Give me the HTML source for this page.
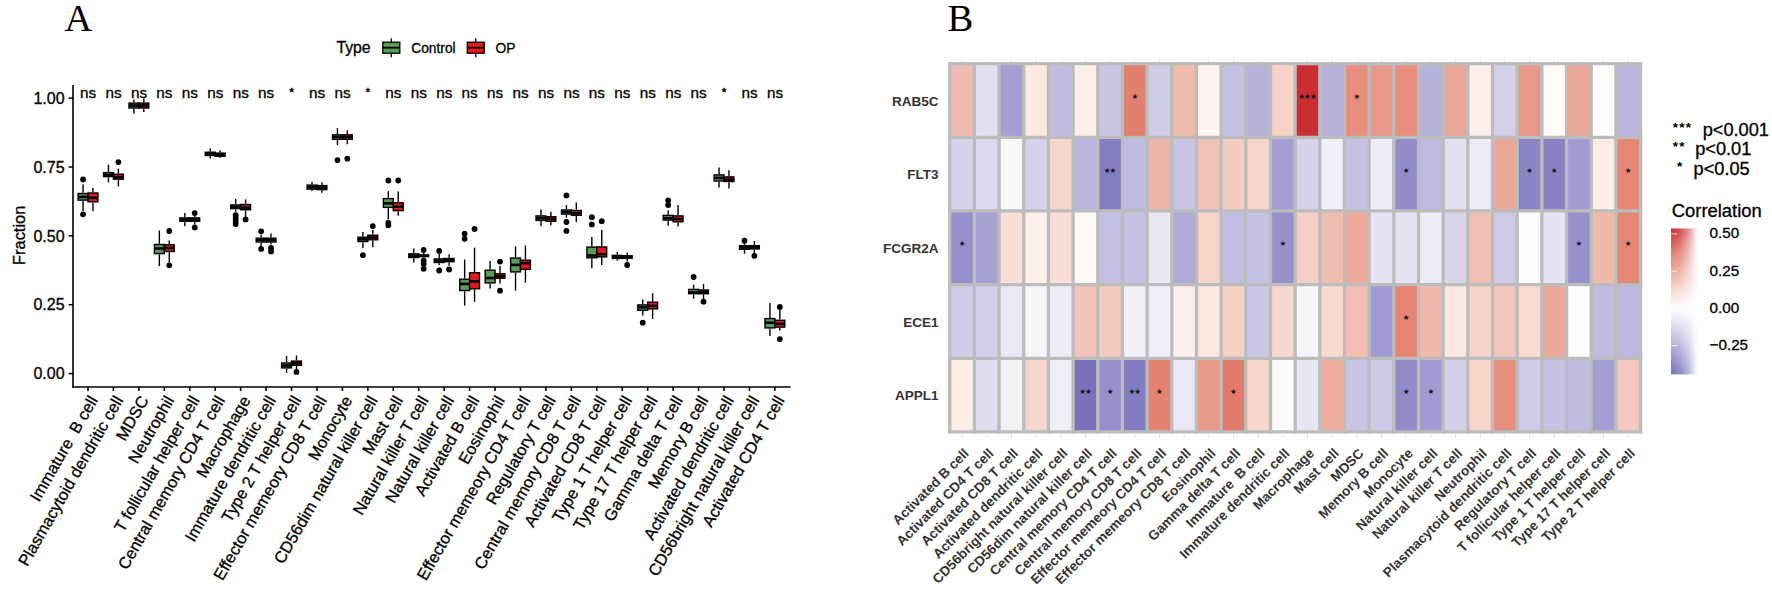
<!DOCTYPE html>
<html lang="en"><head><meta charset="utf-8"><title>Figure</title>
<style>
html,body{margin:0;padding:0;background:#fff;}
body{width:1772px;height:591px;overflow:hidden;}
svg{display:block;}
text{font-family:"Liberation Sans", Arial, Helvetica, sans-serif;white-space:pre;}
#panelA text,.rg{stroke:#000;stroke-width:0.3px;}
.serif{font-family:"Liberation Serif", "Times New Roman", serif;}
.star{font-family:"DejaVu Sans", "Liberation Sans", sans-serif;}
</style></head><body>
<svg width="1772" height="591" viewBox="0 0 1772 591">
<rect x="0" y="0" width="1772" height="591" fill="#ffffff"/>
<text class="serif" x="64.6" y="31" font-size="38.5" fill="#000">A</text>
<text class="serif" x="947.6" y="31.2" font-size="38.5" fill="#000">B</text>
<g id="panelA">
<line x1="83.05" y1="184.40" x2="83.05" y2="192.80" stroke="#000" stroke-width="1.40"/>
<line x1="83.05" y1="200.80" x2="83.05" y2="211.00" stroke="#000" stroke-width="1.40"/>
<rect x="78.10" y="193.50" width="9.90" height="6.60" fill="#5a9b5a" stroke="#000" stroke-width="1.40"/>
<line x1="78.10" y1="196.90" x2="88.00" y2="196.90" stroke="#000" stroke-width="2.60"/>
<circle cx="83.05" cy="179.50" r="2.90" fill="#000"/>
<circle cx="83.05" cy="214.30" r="2.90" fill="#000"/>
<line x1="92.95" y1="188.10" x2="92.95" y2="192.30" stroke="#000" stroke-width="1.40"/>
<line x1="92.95" y1="202.50" x2="92.95" y2="211.30" stroke="#000" stroke-width="1.40"/>
<rect x="88.00" y="193.00" width="9.90" height="8.80" fill="#e3191c" stroke="#000" stroke-width="1.40"/>
<line x1="88.00" y1="197.90" x2="97.90" y2="197.90" stroke="#000" stroke-width="2.60"/>
<line x1="108.49" y1="164.60" x2="108.49" y2="171.90" stroke="#000" stroke-width="1.40"/>
<line x1="108.49" y1="177.30" x2="108.49" y2="182.40" stroke="#000" stroke-width="1.40"/>
<rect x="103.54" y="172.60" width="9.90" height="4.00" fill="#5a9b5a" stroke="#000" stroke-width="1.40"/>
<line x1="103.54" y1="174.90" x2="113.44" y2="174.90" stroke="#000" stroke-width="2.60"/>
<line x1="118.39" y1="168.70" x2="118.39" y2="173.50" stroke="#000" stroke-width="1.40"/>
<line x1="118.39" y1="179.90" x2="118.39" y2="186.40" stroke="#000" stroke-width="1.40"/>
<rect x="113.44" y="174.20" width="9.90" height="5.00" fill="#e3191c" stroke="#000" stroke-width="1.40"/>
<line x1="113.44" y1="177.10" x2="123.34" y2="177.10" stroke="#000" stroke-width="2.60"/>
<circle cx="118.39" cy="162.10" r="2.90" fill="#000"/>
<line x1="133.93" y1="99.40" x2="133.93" y2="102.40" stroke="#000" stroke-width="1.40"/>
<line x1="133.93" y1="108.70" x2="133.93" y2="113.80" stroke="#000" stroke-width="1.40"/>
<rect x="128.98" y="103.10" width="9.90" height="4.90" fill="#5a9b5a" stroke="#000" stroke-width="1.40"/>
<line x1="128.98" y1="105.50" x2="138.88" y2="105.50" stroke="#000" stroke-width="2.60"/>
<line x1="143.83" y1="98.50" x2="143.83" y2="102.40" stroke="#000" stroke-width="1.40"/>
<line x1="143.83" y1="108.70" x2="143.83" y2="112.00" stroke="#000" stroke-width="1.40"/>
<rect x="138.88" y="103.10" width="9.90" height="4.90" fill="#e3191c" stroke="#000" stroke-width="1.40"/>
<line x1="138.88" y1="105.50" x2="148.78" y2="105.50" stroke="#000" stroke-width="2.60"/>
<line x1="159.37" y1="230.50" x2="159.37" y2="243.80" stroke="#000" stroke-width="1.40"/>
<line x1="159.37" y1="254.30" x2="159.37" y2="266.10" stroke="#000" stroke-width="1.40"/>
<rect x="154.42" y="244.50" width="9.90" height="9.10" fill="#5a9b5a" stroke="#000" stroke-width="1.40"/>
<line x1="154.42" y1="248.50" x2="164.32" y2="248.50" stroke="#000" stroke-width="2.60"/>
<line x1="169.27" y1="240.50" x2="169.27" y2="244.10" stroke="#000" stroke-width="1.40"/>
<line x1="169.27" y1="252.20" x2="169.27" y2="262.50" stroke="#000" stroke-width="1.40"/>
<rect x="164.32" y="244.80" width="9.90" height="6.70" fill="#e3191c" stroke="#000" stroke-width="1.40"/>
<line x1="164.32" y1="248.00" x2="174.22" y2="248.00" stroke="#000" stroke-width="2.60"/>
<circle cx="169.27" cy="231.00" r="2.90" fill="#000"/>
<circle cx="169.27" cy="265.30" r="2.90" fill="#000"/>
<line x1="184.81" y1="213.10" x2="184.81" y2="217.20" stroke="#000" stroke-width="1.40"/>
<line x1="184.81" y1="222.00" x2="184.81" y2="226.20" stroke="#000" stroke-width="1.40"/>
<rect x="179.86" y="217.90" width="9.90" height="3.40" fill="#5a9b5a" stroke="#000" stroke-width="1.40"/>
<line x1="179.86" y1="219.60" x2="189.76" y2="219.60" stroke="#000" stroke-width="2.60"/>
<line x1="194.71" y1="216.00" x2="194.71" y2="217.20" stroke="#000" stroke-width="1.40"/>
<line x1="194.71" y1="222.00" x2="194.71" y2="224.50" stroke="#000" stroke-width="1.40"/>
<rect x="189.76" y="217.90" width="9.90" height="3.40" fill="#e3191c" stroke="#000" stroke-width="1.40"/>
<line x1="189.76" y1="219.60" x2="199.66" y2="219.60" stroke="#000" stroke-width="2.60"/>
<circle cx="194.71" cy="213.10" r="2.90" fill="#000"/>
<circle cx="194.71" cy="227.40" r="2.90" fill="#000"/>
<line x1="210.25" y1="148.50" x2="210.25" y2="151.50" stroke="#000" stroke-width="1.40"/>
<line x1="210.25" y1="156.20" x2="210.25" y2="158.60" stroke="#000" stroke-width="1.40"/>
<rect x="205.30" y="152.20" width="9.90" height="3.30" fill="#5a9b5a" stroke="#000" stroke-width="1.40"/>
<line x1="205.30" y1="153.80" x2="215.20" y2="153.80" stroke="#000" stroke-width="2.60"/>
<line x1="220.15" y1="150.20" x2="220.15" y2="152.40" stroke="#000" stroke-width="1.40"/>
<line x1="220.15" y1="157.00" x2="220.15" y2="157.80" stroke="#000" stroke-width="1.40"/>
<rect x="215.20" y="153.10" width="9.90" height="3.20" fill="#e3191c" stroke="#000" stroke-width="1.40"/>
<line x1="215.20" y1="154.70" x2="225.10" y2="154.70" stroke="#000" stroke-width="2.60"/>
<line x1="235.69" y1="198.80" x2="235.69" y2="204.20" stroke="#000" stroke-width="1.40"/>
<line x1="235.69" y1="209.30" x2="235.69" y2="211.80" stroke="#000" stroke-width="1.40"/>
<rect x="230.74" y="204.90" width="9.90" height="3.70" fill="#5a9b5a" stroke="#000" stroke-width="1.40"/>
<line x1="230.74" y1="206.80" x2="240.64" y2="206.80" stroke="#000" stroke-width="2.60"/>
<circle cx="235.69" cy="215.20" r="2.90" fill="#000"/>
<circle cx="235.69" cy="218.60" r="2.90" fill="#000"/>
<circle cx="235.69" cy="221.10" r="2.90" fill="#000"/>
<circle cx="235.69" cy="224.00" r="2.90" fill="#000"/>
<line x1="245.59" y1="199.40" x2="245.59" y2="203.80" stroke="#000" stroke-width="1.40"/>
<line x1="245.59" y1="210.40" x2="245.59" y2="216.90" stroke="#000" stroke-width="1.40"/>
<rect x="240.64" y="204.50" width="9.90" height="5.20" fill="#e3191c" stroke="#000" stroke-width="1.40"/>
<line x1="240.64" y1="207.60" x2="250.54" y2="207.60" stroke="#000" stroke-width="2.60"/>
<circle cx="245.59" cy="219.40" r="2.90" fill="#000"/>
<line x1="261.13" y1="234.50" x2="261.13" y2="237.50" stroke="#000" stroke-width="1.40"/>
<line x1="261.13" y1="242.70" x2="261.13" y2="247.00" stroke="#000" stroke-width="1.40"/>
<rect x="256.18" y="238.20" width="9.90" height="3.80" fill="#5a9b5a" stroke="#000" stroke-width="1.40"/>
<line x1="256.18" y1="240.00" x2="266.08" y2="240.00" stroke="#000" stroke-width="2.60"/>
<circle cx="261.13" cy="231.30" r="2.90" fill="#000"/>
<circle cx="261.13" cy="248.90" r="2.90" fill="#000"/>
<line x1="271.03" y1="233.50" x2="271.03" y2="237.50" stroke="#000" stroke-width="1.40"/>
<line x1="271.03" y1="242.70" x2="271.03" y2="244.60" stroke="#000" stroke-width="1.40"/>
<rect x="266.08" y="238.20" width="9.90" height="3.80" fill="#e3191c" stroke="#000" stroke-width="1.40"/>
<line x1="266.08" y1="240.00" x2="275.98" y2="240.00" stroke="#000" stroke-width="2.60"/>
<circle cx="271.03" cy="248.00" r="2.90" fill="#000"/>
<circle cx="271.03" cy="251.40" r="2.90" fill="#000"/>
<line x1="286.57" y1="355.90" x2="286.57" y2="362.30" stroke="#000" stroke-width="1.40"/>
<line x1="286.57" y1="368.60" x2="286.57" y2="372.80" stroke="#000" stroke-width="1.40"/>
<rect x="281.62" y="363.00" width="9.90" height="4.90" fill="#5a9b5a" stroke="#000" stroke-width="1.40"/>
<line x1="281.62" y1="365.50" x2="291.52" y2="365.50" stroke="#000" stroke-width="2.60"/>
<line x1="296.47" y1="355.50" x2="296.47" y2="360.40" stroke="#000" stroke-width="1.40"/>
<line x1="296.47" y1="366.00" x2="296.47" y2="369.40" stroke="#000" stroke-width="1.40"/>
<rect x="291.52" y="361.10" width="9.90" height="4.20" fill="#e3191c" stroke="#000" stroke-width="1.40"/>
<line x1="291.52" y1="363.20" x2="301.42" y2="363.20" stroke="#000" stroke-width="2.60"/>
<circle cx="296.47" cy="371.90" r="2.90" fill="#000"/>
<line x1="312.01" y1="181.70" x2="312.01" y2="184.40" stroke="#000" stroke-width="1.40"/>
<line x1="312.01" y1="189.80" x2="312.01" y2="191.10" stroke="#000" stroke-width="1.40"/>
<rect x="307.06" y="185.10" width="9.90" height="4.00" fill="#5a9b5a" stroke="#000" stroke-width="1.40"/>
<line x1="307.06" y1="187.10" x2="316.96" y2="187.10" stroke="#000" stroke-width="2.60"/>
<line x1="321.91" y1="182.20" x2="321.91" y2="184.90" stroke="#000" stroke-width="1.40"/>
<line x1="321.91" y1="190.30" x2="321.91" y2="192.70" stroke="#000" stroke-width="1.40"/>
<rect x="316.96" y="185.60" width="9.90" height="4.00" fill="#e3191c" stroke="#000" stroke-width="1.40"/>
<line x1="316.96" y1="187.60" x2="326.86" y2="187.60" stroke="#000" stroke-width="2.60"/>
<line x1="337.45" y1="128.20" x2="337.45" y2="134.10" stroke="#000" stroke-width="1.40"/>
<line x1="337.45" y1="140.00" x2="337.45" y2="145.10" stroke="#000" stroke-width="1.40"/>
<rect x="332.50" y="134.80" width="9.90" height="4.50" fill="#5a9b5a" stroke="#000" stroke-width="1.40"/>
<line x1="332.50" y1="137.00" x2="342.40" y2="137.00" stroke="#000" stroke-width="2.60"/>
<circle cx="337.45" cy="160.10" r="2.90" fill="#000"/>
<line x1="347.35" y1="130.40" x2="347.35" y2="134.10" stroke="#000" stroke-width="1.40"/>
<line x1="347.35" y1="140.00" x2="347.35" y2="144.30" stroke="#000" stroke-width="1.40"/>
<rect x="342.40" y="134.80" width="9.90" height="4.50" fill="#e3191c" stroke="#000" stroke-width="1.40"/>
<line x1="342.40" y1="137.00" x2="352.30" y2="137.00" stroke="#000" stroke-width="2.60"/>
<circle cx="347.35" cy="158.70" r="2.90" fill="#000"/>
<line x1="362.89" y1="231.90" x2="362.89" y2="236.50" stroke="#000" stroke-width="1.40"/>
<line x1="362.89" y1="242.20" x2="362.89" y2="248.10" stroke="#000" stroke-width="1.40"/>
<rect x="357.94" y="237.20" width="9.90" height="4.30" fill="#5a9b5a" stroke="#000" stroke-width="1.40"/>
<line x1="357.94" y1="239.30" x2="367.84" y2="239.30" stroke="#000" stroke-width="2.60"/>
<circle cx="362.89" cy="255.20" r="2.90" fill="#000"/>
<line x1="372.79" y1="229.70" x2="372.79" y2="234.50" stroke="#000" stroke-width="1.40"/>
<line x1="372.79" y1="240.50" x2="372.79" y2="247.20" stroke="#000" stroke-width="1.40"/>
<rect x="367.84" y="235.20" width="9.90" height="4.60" fill="#e3191c" stroke="#000" stroke-width="1.40"/>
<line x1="367.84" y1="237.50" x2="377.74" y2="237.50" stroke="#000" stroke-width="2.60"/>
<circle cx="372.79" cy="226.10" r="2.90" fill="#000"/>
<line x1="388.33" y1="191.10" x2="388.33" y2="197.90" stroke="#000" stroke-width="1.40"/>
<line x1="388.33" y1="208.10" x2="388.33" y2="219.40" stroke="#000" stroke-width="1.40"/>
<rect x="383.38" y="198.60" width="9.90" height="8.80" fill="#5a9b5a" stroke="#000" stroke-width="1.40"/>
<line x1="383.38" y1="203.30" x2="393.28" y2="203.30" stroke="#000" stroke-width="2.60"/>
<circle cx="388.33" cy="180.50" r="2.90" fill="#000"/>
<circle cx="388.33" cy="222.80" r="2.90" fill="#000"/>
<circle cx="388.33" cy="225.30" r="2.90" fill="#000"/>
<line x1="398.23" y1="191.50" x2="398.23" y2="202.10" stroke="#000" stroke-width="1.40"/>
<line x1="398.23" y1="211.30" x2="398.23" y2="215.70" stroke="#000" stroke-width="1.40"/>
<rect x="393.28" y="202.80" width="9.90" height="7.80" fill="#e3191c" stroke="#000" stroke-width="1.40"/>
<line x1="393.28" y1="206.70" x2="403.18" y2="206.70" stroke="#000" stroke-width="2.60"/>
<circle cx="398.23" cy="180.50" r="2.90" fill="#000"/>
<line x1="413.77" y1="248.40" x2="413.77" y2="253.10" stroke="#000" stroke-width="1.40"/>
<line x1="413.77" y1="258.20" x2="413.77" y2="262.40" stroke="#000" stroke-width="1.40"/>
<rect x="408.82" y="253.80" width="9.90" height="3.70" fill="#5a9b5a" stroke="#000" stroke-width="1.40"/>
<line x1="408.82" y1="255.60" x2="418.72" y2="255.60" stroke="#000" stroke-width="2.60"/>
<line x1="423.67" y1="252.20" x2="423.67" y2="254.30" stroke="#000" stroke-width="1.40"/>
<line x1="423.67" y1="257.30" x2="423.67" y2="259.40" stroke="#000" stroke-width="1.40"/>
<rect x="418.72" y="255.00" width="9.90" height="1.60" fill="#e3191c" stroke="#000" stroke-width="1.40"/>
<line x1="418.72" y1="255.80" x2="428.62" y2="255.80" stroke="#000" stroke-width="2.60"/>
<circle cx="423.67" cy="250.00" r="2.90" fill="#000"/>
<circle cx="423.67" cy="260.70" r="2.90" fill="#000"/>
<circle cx="423.67" cy="264.10" r="2.90" fill="#000"/>
<circle cx="423.67" cy="268.80" r="2.90" fill="#000"/>
<line x1="439.21" y1="253.90" x2="439.21" y2="258.20" stroke="#000" stroke-width="1.40"/>
<line x1="439.21" y1="263.20" x2="439.21" y2="265.00" stroke="#000" stroke-width="1.40"/>
<rect x="434.26" y="258.90" width="9.90" height="3.60" fill="#5a9b5a" stroke="#000" stroke-width="1.40"/>
<line x1="434.26" y1="260.70" x2="444.16" y2="260.70" stroke="#000" stroke-width="2.60"/>
<circle cx="439.21" cy="250.90" r="2.90" fill="#000"/>
<circle cx="439.21" cy="270.50" r="2.90" fill="#000"/>
<line x1="449.11" y1="254.30" x2="449.11" y2="257.80" stroke="#000" stroke-width="1.40"/>
<line x1="449.11" y1="262.40" x2="449.11" y2="265.80" stroke="#000" stroke-width="1.40"/>
<rect x="444.16" y="258.50" width="9.90" height="3.20" fill="#e3191c" stroke="#000" stroke-width="1.40"/>
<line x1="444.16" y1="260.10" x2="454.06" y2="260.10" stroke="#000" stroke-width="2.60"/>
<circle cx="449.11" cy="269.50" r="2.90" fill="#000"/>
<line x1="464.65" y1="259.50" x2="464.65" y2="278.50" stroke="#000" stroke-width="1.40"/>
<line x1="464.65" y1="291.20" x2="464.65" y2="305.60" stroke="#000" stroke-width="1.40"/>
<rect x="459.70" y="279.20" width="9.90" height="11.30" fill="#5a9b5a" stroke="#000" stroke-width="1.40"/>
<line x1="459.70" y1="283.90" x2="469.60" y2="283.90" stroke="#000" stroke-width="2.60"/>
<circle cx="464.65" cy="233.70" r="2.90" fill="#000"/>
<circle cx="464.65" cy="238.80" r="2.90" fill="#000"/>
<line x1="474.55" y1="247.70" x2="474.55" y2="272.00" stroke="#000" stroke-width="1.40"/>
<line x1="474.55" y1="289.50" x2="474.55" y2="301.80" stroke="#000" stroke-width="1.40"/>
<rect x="469.60" y="272.70" width="9.90" height="16.10" fill="#e3191c" stroke="#000" stroke-width="1.40"/>
<line x1="469.60" y1="281.40" x2="479.50" y2="281.40" stroke="#000" stroke-width="2.60"/>
<circle cx="474.55" cy="229.00" r="2.90" fill="#000"/>
<line x1="490.09" y1="261.00" x2="490.09" y2="269.50" stroke="#000" stroke-width="1.40"/>
<line x1="490.09" y1="283.60" x2="490.09" y2="288.60" stroke="#000" stroke-width="1.40"/>
<rect x="485.14" y="270.20" width="9.90" height="12.70" fill="#5a9b5a" stroke="#000" stroke-width="1.40"/>
<line x1="485.14" y1="278.00" x2="495.04" y2="278.00" stroke="#000" stroke-width="2.60"/>
<line x1="499.99" y1="265.80" x2="499.99" y2="273.10" stroke="#000" stroke-width="1.40"/>
<line x1="499.99" y1="279.00" x2="499.99" y2="283.60" stroke="#000" stroke-width="1.40"/>
<rect x="495.04" y="273.80" width="9.90" height="4.50" fill="#e3191c" stroke="#000" stroke-width="1.40"/>
<line x1="495.04" y1="276.30" x2="504.94" y2="276.30" stroke="#000" stroke-width="2.60"/>
<circle cx="499.99" cy="261.60" r="2.90" fill="#000"/>
<circle cx="499.99" cy="290.70" r="2.90" fill="#000"/>
<line x1="515.53" y1="246.30" x2="515.53" y2="257.30" stroke="#000" stroke-width="1.40"/>
<line x1="515.53" y1="272.60" x2="515.53" y2="290.70" stroke="#000" stroke-width="1.40"/>
<rect x="510.58" y="258.00" width="9.90" height="13.90" fill="#5a9b5a" stroke="#000" stroke-width="1.40"/>
<line x1="510.58" y1="264.90" x2="520.48" y2="264.90" stroke="#000" stroke-width="2.60"/>
<line x1="525.43" y1="245.50" x2="525.43" y2="259.50" stroke="#000" stroke-width="1.40"/>
<line x1="525.43" y1="270.00" x2="525.43" y2="282.70" stroke="#000" stroke-width="1.40"/>
<rect x="520.48" y="260.20" width="9.90" height="9.10" fill="#e3191c" stroke="#000" stroke-width="1.40"/>
<line x1="520.48" y1="263.20" x2="530.38" y2="263.20" stroke="#000" stroke-width="2.60"/>
<line x1="540.97" y1="209.60" x2="540.97" y2="215.20" stroke="#000" stroke-width="1.40"/>
<line x1="540.97" y1="221.10" x2="540.97" y2="226.20" stroke="#000" stroke-width="1.40"/>
<rect x="536.02" y="215.90" width="9.90" height="4.50" fill="#5a9b5a" stroke="#000" stroke-width="1.40"/>
<line x1="536.02" y1="218.10" x2="545.92" y2="218.10" stroke="#000" stroke-width="2.60"/>
<line x1="550.87" y1="211.80" x2="550.87" y2="216.00" stroke="#000" stroke-width="1.40"/>
<line x1="550.87" y1="222.00" x2="550.87" y2="225.30" stroke="#000" stroke-width="1.40"/>
<rect x="545.92" y="216.70" width="9.90" height="4.60" fill="#e3191c" stroke="#000" stroke-width="1.40"/>
<line x1="545.92" y1="219.00" x2="555.82" y2="219.00" stroke="#000" stroke-width="2.60"/>
<line x1="566.41" y1="205.00" x2="566.41" y2="209.30" stroke="#000" stroke-width="1.40"/>
<line x1="566.41" y1="214.80" x2="566.41" y2="217.70" stroke="#000" stroke-width="1.40"/>
<rect x="561.46" y="210.00" width="9.90" height="4.10" fill="#5a9b5a" stroke="#000" stroke-width="1.40"/>
<line x1="561.46" y1="212.00" x2="571.36" y2="212.00" stroke="#000" stroke-width="2.60"/>
<circle cx="566.41" cy="195.40" r="2.90" fill="#000"/>
<circle cx="566.41" cy="222.00" r="2.90" fill="#000"/>
<circle cx="566.41" cy="230.90" r="2.90" fill="#000"/>
<line x1="576.31" y1="202.50" x2="576.31" y2="209.80" stroke="#000" stroke-width="1.40"/>
<line x1="576.31" y1="216.00" x2="576.31" y2="222.00" stroke="#000" stroke-width="1.40"/>
<rect x="571.36" y="210.50" width="9.90" height="4.80" fill="#e3191c" stroke="#000" stroke-width="1.40"/>
<line x1="571.36" y1="213.20" x2="581.26" y2="213.20" stroke="#000" stroke-width="2.60"/>
<line x1="591.85" y1="236.90" x2="591.85" y2="246.40" stroke="#000" stroke-width="1.40"/>
<line x1="591.85" y1="258.50" x2="591.85" y2="268.20" stroke="#000" stroke-width="1.40"/>
<rect x="586.90" y="247.10" width="9.90" height="10.70" fill="#5a9b5a" stroke="#000" stroke-width="1.40"/>
<line x1="586.90" y1="255.50" x2="596.80" y2="255.50" stroke="#000" stroke-width="2.60"/>
<circle cx="591.85" cy="217.20" r="2.90" fill="#000"/>
<circle cx="591.85" cy="224.40" r="2.90" fill="#000"/>
<line x1="601.75" y1="229.70" x2="601.75" y2="246.20" stroke="#000" stroke-width="1.40"/>
<line x1="601.75" y1="257.60" x2="601.75" y2="264.90" stroke="#000" stroke-width="1.40"/>
<rect x="596.80" y="246.90" width="9.90" height="10.00" fill="#e3191c" stroke="#000" stroke-width="1.40"/>
<line x1="596.80" y1="254.20" x2="606.70" y2="254.20" stroke="#000" stroke-width="2.60"/>
<circle cx="601.75" cy="221.20" r="2.90" fill="#000"/>
<line x1="617.29" y1="252.00" x2="617.29" y2="254.70" stroke="#000" stroke-width="1.40"/>
<line x1="617.29" y1="259.20" x2="617.29" y2="260.80" stroke="#000" stroke-width="1.40"/>
<rect x="612.34" y="255.40" width="9.90" height="3.10" fill="#5a9b5a" stroke="#000" stroke-width="1.40"/>
<line x1="612.34" y1="257.00" x2="622.24" y2="257.00" stroke="#000" stroke-width="2.60"/>
<line x1="627.19" y1="252.60" x2="627.19" y2="255.10" stroke="#000" stroke-width="1.40"/>
<line x1="627.19" y1="258.90" x2="627.19" y2="261.60" stroke="#000" stroke-width="1.40"/>
<rect x="622.24" y="255.80" width="9.90" height="2.40" fill="#e3191c" stroke="#000" stroke-width="1.40"/>
<line x1="622.24" y1="257.00" x2="632.14" y2="257.00" stroke="#000" stroke-width="2.60"/>
<circle cx="627.19" cy="265.00" r="2.90" fill="#000"/>
<line x1="642.73" y1="299.50" x2="642.73" y2="304.20" stroke="#000" stroke-width="1.40"/>
<line x1="642.73" y1="311.00" x2="642.73" y2="315.60" stroke="#000" stroke-width="1.40"/>
<rect x="637.78" y="304.90" width="9.90" height="5.40" fill="#5a9b5a" stroke="#000" stroke-width="1.40"/>
<line x1="637.78" y1="307.40" x2="647.68" y2="307.40" stroke="#000" stroke-width="2.60"/>
<circle cx="642.73" cy="322.70" r="2.90" fill="#000"/>
<line x1="652.63" y1="293.20" x2="652.63" y2="301.50" stroke="#000" stroke-width="1.40"/>
<line x1="652.63" y1="309.60" x2="652.63" y2="319.00" stroke="#000" stroke-width="1.40"/>
<rect x="647.68" y="302.20" width="9.90" height="6.70" fill="#e3191c" stroke="#000" stroke-width="1.40"/>
<line x1="647.68" y1="305.90" x2="657.58" y2="305.90" stroke="#000" stroke-width="2.60"/>
<line x1="668.17" y1="210.40" x2="668.17" y2="214.70" stroke="#000" stroke-width="1.40"/>
<line x1="668.17" y1="220.80" x2="668.17" y2="225.70" stroke="#000" stroke-width="1.40"/>
<rect x="663.22" y="215.40" width="9.90" height="4.70" fill="#5a9b5a" stroke="#000" stroke-width="1.40"/>
<line x1="663.22" y1="218.20" x2="673.12" y2="218.20" stroke="#000" stroke-width="2.60"/>
<circle cx="668.17" cy="200.30" r="2.90" fill="#000"/>
<circle cx="668.17" cy="205.00" r="2.90" fill="#000"/>
<line x1="678.07" y1="205.00" x2="678.07" y2="215.20" stroke="#000" stroke-width="1.40"/>
<line x1="678.07" y1="222.50" x2="678.07" y2="226.50" stroke="#000" stroke-width="1.40"/>
<rect x="673.12" y="215.90" width="9.90" height="5.90" fill="#e3191c" stroke="#000" stroke-width="1.40"/>
<line x1="673.12" y1="218.90" x2="683.02" y2="218.90" stroke="#000" stroke-width="2.60"/>
<line x1="693.61" y1="284.60" x2="693.61" y2="288.70" stroke="#000" stroke-width="1.40"/>
<line x1="693.61" y1="294.40" x2="693.61" y2="298.60" stroke="#000" stroke-width="1.40"/>
<rect x="688.66" y="289.40" width="9.90" height="4.30" fill="#5a9b5a" stroke="#000" stroke-width="1.40"/>
<line x1="688.66" y1="292.50" x2="698.56" y2="292.50" stroke="#000" stroke-width="2.60"/>
<circle cx="693.61" cy="277.00" r="2.90" fill="#000"/>
<line x1="703.51" y1="283.90" x2="703.51" y2="289.30" stroke="#000" stroke-width="1.40"/>
<line x1="703.51" y1="294.40" x2="703.51" y2="299.50" stroke="#000" stroke-width="1.40"/>
<rect x="698.56" y="290.00" width="9.90" height="3.70" fill="#e3191c" stroke="#000" stroke-width="1.40"/>
<line x1="698.56" y1="291.80" x2="708.46" y2="291.80" stroke="#000" stroke-width="2.60"/>
<circle cx="703.51" cy="301.70" r="2.90" fill="#000"/>
<line x1="719.05" y1="167.40" x2="719.05" y2="174.20" stroke="#000" stroke-width="1.40"/>
<line x1="719.05" y1="181.70" x2="719.05" y2="187.60" stroke="#000" stroke-width="1.40"/>
<rect x="714.10" y="174.90" width="9.90" height="6.10" fill="#5a9b5a" stroke="#000" stroke-width="1.40"/>
<line x1="714.10" y1="177.90" x2="724.00" y2="177.90" stroke="#000" stroke-width="2.60"/>
<line x1="728.95" y1="170.30" x2="728.95" y2="176.20" stroke="#000" stroke-width="1.40"/>
<line x1="728.95" y1="182.20" x2="728.95" y2="188.60" stroke="#000" stroke-width="1.40"/>
<rect x="724.00" y="176.90" width="9.90" height="4.60" fill="#e3191c" stroke="#000" stroke-width="1.40"/>
<line x1="724.00" y1="179.60" x2="733.90" y2="179.60" stroke="#000" stroke-width="2.60"/>
<line x1="744.49" y1="242.00" x2="744.49" y2="245.00" stroke="#000" stroke-width="1.40"/>
<line x1="744.49" y1="250.00" x2="744.49" y2="253.80" stroke="#000" stroke-width="1.40"/>
<rect x="739.54" y="245.70" width="9.90" height="3.60" fill="#5a9b5a" stroke="#000" stroke-width="1.40"/>
<line x1="739.54" y1="247.50" x2="749.44" y2="247.50" stroke="#000" stroke-width="2.60"/>
<circle cx="744.49" cy="240.70" r="2.90" fill="#000"/>
<line x1="754.39" y1="241.10" x2="754.39" y2="245.00" stroke="#000" stroke-width="1.40"/>
<line x1="754.39" y1="249.60" x2="754.39" y2="253.80" stroke="#000" stroke-width="1.40"/>
<rect x="749.44" y="245.70" width="9.90" height="3.20" fill="#e3191c" stroke="#000" stroke-width="1.40"/>
<line x1="749.44" y1="247.30" x2="759.34" y2="247.30" stroke="#000" stroke-width="2.60"/>
<circle cx="754.39" cy="255.80" r="2.90" fill="#000"/>
<line x1="769.93" y1="303.00" x2="769.93" y2="317.90" stroke="#000" stroke-width="1.40"/>
<line x1="769.93" y1="328.60" x2="769.93" y2="336.00" stroke="#000" stroke-width="1.40"/>
<rect x="764.98" y="318.60" width="9.90" height="9.30" fill="#5a9b5a" stroke="#000" stroke-width="1.40"/>
<line x1="764.98" y1="322.70" x2="774.88" y2="322.70" stroke="#000" stroke-width="2.60"/>
<line x1="779.83" y1="309.50" x2="779.83" y2="319.60" stroke="#000" stroke-width="1.40"/>
<line x1="779.83" y1="327.80" x2="779.83" y2="330.60" stroke="#000" stroke-width="1.40"/>
<rect x="774.88" y="320.30" width="9.90" height="6.80" fill="#e3191c" stroke="#000" stroke-width="1.40"/>
<line x1="774.88" y1="323.90" x2="784.78" y2="323.90" stroke="#000" stroke-width="2.60"/>
<circle cx="779.83" cy="306.90" r="2.90" fill="#000"/>
<circle cx="779.83" cy="339.10" r="2.90" fill="#000"/>
<line x1="73.00" y1="84.90" x2="73.00" y2="387.80" stroke="#000" stroke-width="1.60"/>
<line x1="72.20" y1="387.00" x2="790.50" y2="387.00" stroke="#000" stroke-width="1.60"/>
<line x1="68.60" y1="98.10" x2="73.00" y2="98.10" stroke="#000" stroke-width="1.5"/>
<text x="64.6" y="103.85" font-size="16" text-anchor="end" fill="#000">1.00</text>
<line x1="68.60" y1="167.00" x2="73.00" y2="167.00" stroke="#000" stroke-width="1.5"/>
<text x="64.6" y="172.75" font-size="16" text-anchor="end" fill="#000">0.75</text>
<line x1="68.60" y1="235.80" x2="73.00" y2="235.80" stroke="#000" stroke-width="1.5"/>
<text x="64.6" y="241.55" font-size="16" text-anchor="end" fill="#000">0.50</text>
<line x1="68.60" y1="304.70" x2="73.00" y2="304.70" stroke="#000" stroke-width="1.5"/>
<text x="64.6" y="310.45" font-size="16" text-anchor="end" fill="#000">0.25</text>
<line x1="68.60" y1="373.60" x2="73.00" y2="373.60" stroke="#000" stroke-width="1.5"/>
<text x="64.6" y="379.35" font-size="16" text-anchor="end" fill="#000">0.00</text>
<line x1="88.00" y1="387.00" x2="88.00" y2="391.00" stroke="#000" stroke-width="1.6"/>
<line x1="113.44" y1="387.00" x2="113.44" y2="391.00" stroke="#000" stroke-width="1.6"/>
<line x1="138.88" y1="387.00" x2="138.88" y2="391.00" stroke="#000" stroke-width="1.6"/>
<line x1="164.32" y1="387.00" x2="164.32" y2="391.00" stroke="#000" stroke-width="1.6"/>
<line x1="189.76" y1="387.00" x2="189.76" y2="391.00" stroke="#000" stroke-width="1.6"/>
<line x1="215.20" y1="387.00" x2="215.20" y2="391.00" stroke="#000" stroke-width="1.6"/>
<line x1="240.64" y1="387.00" x2="240.64" y2="391.00" stroke="#000" stroke-width="1.6"/>
<line x1="266.08" y1="387.00" x2="266.08" y2="391.00" stroke="#000" stroke-width="1.6"/>
<line x1="291.52" y1="387.00" x2="291.52" y2="391.00" stroke="#000" stroke-width="1.6"/>
<line x1="316.96" y1="387.00" x2="316.96" y2="391.00" stroke="#000" stroke-width="1.6"/>
<line x1="342.40" y1="387.00" x2="342.40" y2="391.00" stroke="#000" stroke-width="1.6"/>
<line x1="367.84" y1="387.00" x2="367.84" y2="391.00" stroke="#000" stroke-width="1.6"/>
<line x1="393.28" y1="387.00" x2="393.28" y2="391.00" stroke="#000" stroke-width="1.6"/>
<line x1="418.72" y1="387.00" x2="418.72" y2="391.00" stroke="#000" stroke-width="1.6"/>
<line x1="444.16" y1="387.00" x2="444.16" y2="391.00" stroke="#000" stroke-width="1.6"/>
<line x1="469.60" y1="387.00" x2="469.60" y2="391.00" stroke="#000" stroke-width="1.6"/>
<line x1="495.04" y1="387.00" x2="495.04" y2="391.00" stroke="#000" stroke-width="1.6"/>
<line x1="520.48" y1="387.00" x2="520.48" y2="391.00" stroke="#000" stroke-width="1.6"/>
<line x1="545.92" y1="387.00" x2="545.92" y2="391.00" stroke="#000" stroke-width="1.6"/>
<line x1="571.36" y1="387.00" x2="571.36" y2="391.00" stroke="#000" stroke-width="1.6"/>
<line x1="596.80" y1="387.00" x2="596.80" y2="391.00" stroke="#000" stroke-width="1.6"/>
<line x1="622.24" y1="387.00" x2="622.24" y2="391.00" stroke="#000" stroke-width="1.6"/>
<line x1="647.68" y1="387.00" x2="647.68" y2="391.00" stroke="#000" stroke-width="1.6"/>
<line x1="673.12" y1="387.00" x2="673.12" y2="391.00" stroke="#000" stroke-width="1.6"/>
<line x1="698.56" y1="387.00" x2="698.56" y2="391.00" stroke="#000" stroke-width="1.6"/>
<line x1="724.00" y1="387.00" x2="724.00" y2="391.00" stroke="#000" stroke-width="1.6"/>
<line x1="749.44" y1="387.00" x2="749.44" y2="391.00" stroke="#000" stroke-width="1.6"/>
<line x1="774.88" y1="387.00" x2="774.88" y2="391.00" stroke="#000" stroke-width="1.6"/>
<text transform="translate(98.30,400.10) rotate(-60)" x="0" y="0" font-size="16.4" text-anchor="end" fill="#000" xml:space="preserve">Immature  B cell</text>
<text transform="translate(123.74,400.10) rotate(-60)" x="0" y="0" font-size="16.4" text-anchor="end" fill="#000" xml:space="preserve">Plasmacytoid dendritic cell</text>
<text transform="translate(149.18,400.10) rotate(-60)" x="0" y="0" font-size="16.4" text-anchor="end" fill="#000" xml:space="preserve">MDSC</text>
<text transform="translate(174.62,400.10) rotate(-60)" x="0" y="0" font-size="16.4" text-anchor="end" fill="#000" xml:space="preserve">Neutrophil</text>
<text transform="translate(200.06,400.10) rotate(-60)" x="0" y="0" font-size="16.4" text-anchor="end" fill="#000" xml:space="preserve">T follicular helper cell</text>
<text transform="translate(225.50,400.10) rotate(-60)" x="0" y="0" font-size="16.4" text-anchor="end" fill="#000" xml:space="preserve">Central memory CD4 T cell</text>
<text transform="translate(250.94,400.10) rotate(-60)" x="0" y="0" font-size="16.4" text-anchor="end" fill="#000" xml:space="preserve">Macrophage</text>
<text transform="translate(276.38,400.10) rotate(-60)" x="0" y="0" font-size="16.4" text-anchor="end" fill="#000" xml:space="preserve">Immature dendritic cell</text>
<text transform="translate(301.82,400.10) rotate(-60)" x="0" y="0" font-size="16.4" text-anchor="end" fill="#000" xml:space="preserve">Type 2 T helper cell</text>
<text transform="translate(327.26,400.10) rotate(-60)" x="0" y="0" font-size="16.4" text-anchor="end" fill="#000" xml:space="preserve">Effector memeory CD8 T cell</text>
<text transform="translate(352.70,400.10) rotate(-60)" x="0" y="0" font-size="16.4" text-anchor="end" fill="#000" xml:space="preserve">Monocyte</text>
<text transform="translate(378.14,400.10) rotate(-60)" x="0" y="0" font-size="16.4" text-anchor="end" fill="#000" xml:space="preserve">CD56dim natural killer cell</text>
<text transform="translate(403.58,400.10) rotate(-60)" x="0" y="0" font-size="16.4" text-anchor="end" fill="#000" xml:space="preserve">Mast cell</text>
<text transform="translate(429.02,400.10) rotate(-60)" x="0" y="0" font-size="16.4" text-anchor="end" fill="#000" xml:space="preserve">Natural killer T cell</text>
<text transform="translate(454.46,400.10) rotate(-60)" x="0" y="0" font-size="16.4" text-anchor="end" fill="#000" xml:space="preserve">Natural killer cell</text>
<text transform="translate(479.90,400.10) rotate(-60)" x="0" y="0" font-size="16.4" text-anchor="end" fill="#000" xml:space="preserve">Activated B cell</text>
<text transform="translate(505.34,400.10) rotate(-60)" x="0" y="0" font-size="16.4" text-anchor="end" fill="#000" xml:space="preserve">Eosinophil</text>
<text transform="translate(530.78,400.10) rotate(-60)" x="0" y="0" font-size="16.4" text-anchor="end" fill="#000" xml:space="preserve">Effector memeory CD4 T cell</text>
<text transform="translate(556.22,400.10) rotate(-60)" x="0" y="0" font-size="16.4" text-anchor="end" fill="#000" xml:space="preserve">Regulatory T cell</text>
<text transform="translate(581.66,400.10) rotate(-60)" x="0" y="0" font-size="16.4" text-anchor="end" fill="#000" xml:space="preserve">Central memory CD8 T cell</text>
<text transform="translate(607.10,400.10) rotate(-60)" x="0" y="0" font-size="16.4" text-anchor="end" fill="#000" xml:space="preserve">Activated CD8 T cell</text>
<text transform="translate(632.54,400.10) rotate(-60)" x="0" y="0" font-size="16.4" text-anchor="end" fill="#000" xml:space="preserve">Type 1 T helper cell</text>
<text transform="translate(657.98,400.10) rotate(-60)" x="0" y="0" font-size="16.4" text-anchor="end" fill="#000" xml:space="preserve">Type 17 T helper cell</text>
<text transform="translate(683.42,400.10) rotate(-60)" x="0" y="0" font-size="16.4" text-anchor="end" fill="#000" xml:space="preserve">Gamma delta T cell</text>
<text transform="translate(708.86,400.10) rotate(-60)" x="0" y="0" font-size="16.4" text-anchor="end" fill="#000" xml:space="preserve">Memory B cell</text>
<text transform="translate(734.30,400.10) rotate(-60)" x="0" y="0" font-size="16.4" text-anchor="end" fill="#000" xml:space="preserve">Activated dendritic cell</text>
<text transform="translate(759.74,400.10) rotate(-60)" x="0" y="0" font-size="16.4" text-anchor="end" fill="#000" xml:space="preserve">CD56bright natural killer cell</text>
<text transform="translate(785.18,400.10) rotate(-60)" x="0" y="0" font-size="16.4" text-anchor="end" fill="#000" xml:space="preserve">Activated CD4 T cell</text>
<text x="88.10" y="97.6" font-size="15.3" text-anchor="middle" fill="#000">ns</text>
<text x="113.54" y="97.6" font-size="15.3" text-anchor="middle" fill="#000">ns</text>
<text x="138.98" y="97.6" font-size="15.3" text-anchor="middle" fill="#000">ns</text>
<text x="164.42" y="97.6" font-size="15.3" text-anchor="middle" fill="#000">ns</text>
<text x="189.86" y="97.6" font-size="15.3" text-anchor="middle" fill="#000">ns</text>
<text x="215.30" y="97.6" font-size="15.3" text-anchor="middle" fill="#000">ns</text>
<text x="240.74" y="97.6" font-size="15.3" text-anchor="middle" fill="#000">ns</text>
<text x="266.18" y="97.6" font-size="15.3" text-anchor="middle" fill="#000">ns</text>
<text x="291.62" y="95.6" font-size="10.8" font-weight="bold" text-anchor="middle" fill="#000">*</text>
<text x="317.06" y="97.6" font-size="15.3" text-anchor="middle" fill="#000">ns</text>
<text x="342.50" y="97.6" font-size="15.3" text-anchor="middle" fill="#000">ns</text>
<text x="367.94" y="95.6" font-size="10.8" font-weight="bold" text-anchor="middle" fill="#000">*</text>
<text x="393.38" y="97.6" font-size="15.3" text-anchor="middle" fill="#000">ns</text>
<text x="418.82" y="97.6" font-size="15.3" text-anchor="middle" fill="#000">ns</text>
<text x="444.26" y="97.6" font-size="15.3" text-anchor="middle" fill="#000">ns</text>
<text x="469.70" y="97.6" font-size="15.3" text-anchor="middle" fill="#000">ns</text>
<text x="495.14" y="97.6" font-size="15.3" text-anchor="middle" fill="#000">ns</text>
<text x="520.58" y="97.6" font-size="15.3" text-anchor="middle" fill="#000">ns</text>
<text x="546.02" y="97.6" font-size="15.3" text-anchor="middle" fill="#000">ns</text>
<text x="571.46" y="97.6" font-size="15.3" text-anchor="middle" fill="#000">ns</text>
<text x="596.90" y="97.6" font-size="15.3" text-anchor="middle" fill="#000">ns</text>
<text x="622.34" y="97.6" font-size="15.3" text-anchor="middle" fill="#000">ns</text>
<text x="647.78" y="97.6" font-size="15.3" text-anchor="middle" fill="#000">ns</text>
<text x="673.22" y="97.6" font-size="15.3" text-anchor="middle" fill="#000">ns</text>
<text x="698.66" y="97.6" font-size="15.3" text-anchor="middle" fill="#000">ns</text>
<text x="724.10" y="95.6" font-size="10.8" font-weight="bold" text-anchor="middle" fill="#000">*</text>
<text x="749.54" y="97.6" font-size="15.3" text-anchor="middle" fill="#000">ns</text>
<text x="774.98" y="97.6" font-size="15.3" text-anchor="middle" fill="#000">ns</text>
<text transform="translate(24.8,235.3) rotate(-90)" font-size="16.4" text-anchor="middle" fill="#000">Fraction</text>
<text x="336.4" y="53.3" font-size="15.8" fill="#000">Type</text>
<line x1="391.30" y1="38.3" x2="391.30" y2="57.2" stroke="#000" stroke-width="1.3"/>
<rect x="382.80" y="42.2" width="17" height="11" fill="#5a9b5a" stroke="#000" stroke-width="1.3"/>
<line x1="382.80" y1="47.7" x2="399.80" y2="47.7" stroke="#000" stroke-width="1.8"/>
<text x="411.20" y="52.5" font-size="13.8" fill="#000">Control</text>
<line x1="475.80" y1="38.3" x2="475.80" y2="57.2" stroke="#000" stroke-width="1.3"/>
<rect x="467.30" y="42.2" width="17" height="11" fill="#e3191c" stroke="#000" stroke-width="1.3"/>
<line x1="467.30" y1="47.7" x2="484.30" y2="47.7" stroke="#000" stroke-width="1.8"/>
<text x="495.60" y="52.5" font-size="13.8" fill="#000">OP</text>
</g>
<g id="panelB">
<rect x="949.75" y="63.65" width="24.72" height="73.71" fill="rgb(238,188,178)"/>
<rect x="974.42" y="63.65" width="24.72" height="73.71" fill="rgb(226,223,240)"/>
<rect x="999.09" y="63.65" width="24.72" height="73.71" fill="rgb(164,158,210)"/>
<rect x="1023.76" y="63.65" width="24.72" height="73.71" fill="rgb(250,232,225)"/>
<rect x="1048.44" y="63.65" width="24.72" height="73.71" fill="rgb(194,189,224)"/>
<rect x="1073.11" y="63.65" width="24.72" height="73.71" fill="rgb(252,238,233)"/>
<rect x="1097.78" y="63.65" width="24.72" height="73.71" fill="rgb(203,197,228)"/>
<rect x="1122.45" y="63.65" width="24.72" height="73.71" fill="rgb(226,128,112)"/>
<rect x="1147.12" y="63.65" width="24.72" height="73.71" fill="rgb(208,205,230)"/>
<rect x="1171.79" y="63.65" width="24.72" height="73.71" fill="rgb(240,188,172)"/>
<rect x="1196.46" y="63.65" width="24.72" height="73.71" fill="rgb(253,244,240)"/>
<rect x="1221.14" y="63.65" width="24.72" height="73.71" fill="rgb(196,192,226)"/>
<rect x="1245.81" y="63.65" width="24.72" height="73.71" fill="rgb(183,180,220)"/>
<rect x="1270.48" y="63.65" width="24.72" height="73.71" fill="rgb(246,210,198)"/>
<rect x="1295.15" y="63.65" width="24.72" height="73.71" fill="rgb(203,46,50)"/>
<rect x="1319.82" y="63.65" width="24.72" height="73.71" fill="rgb(183,177,219)"/>
<rect x="1344.49" y="63.65" width="24.72" height="73.71" fill="rgb(231,142,126)"/>
<rect x="1369.16" y="63.65" width="24.72" height="73.71" fill="rgb(232,152,137)"/>
<rect x="1393.84" y="63.65" width="24.72" height="73.71" fill="rgb(231,142,126)"/>
<rect x="1418.51" y="63.65" width="24.72" height="73.71" fill="rgb(183,180,220)"/>
<rect x="1443.18" y="63.65" width="24.72" height="73.71" fill="rgb(234,168,152)"/>
<rect x="1467.85" y="63.65" width="24.72" height="73.71" fill="rgb(252,238,233)"/>
<rect x="1492.52" y="63.65" width="24.72" height="73.71" fill="rgb(212,208,232)"/>
<rect x="1517.19" y="63.65" width="24.72" height="73.71" fill="rgb(232,152,137)"/>
<rect x="1541.86" y="63.65" width="24.72" height="73.71" fill="rgb(254,250,248)"/>
<rect x="1566.54" y="63.65" width="24.72" height="73.71" fill="rgb(234,168,152)"/>
<rect x="1591.21" y="63.65" width="24.72" height="73.71" fill="rgb(254,252,251)"/>
<rect x="1615.88" y="63.65" width="24.72" height="73.71" fill="rgb(186,183,222)"/>
<rect x="949.75" y="137.31" width="24.72" height="73.71" fill="rgb(214,210,234)"/>
<rect x="974.42" y="137.31" width="24.72" height="73.71" fill="rgb(220,217,237)"/>
<rect x="999.09" y="137.31" width="24.72" height="73.71" fill="rgb(248,247,250)"/>
<rect x="1023.76" y="137.31" width="24.72" height="73.71" fill="rgb(214,210,234)"/>
<rect x="1048.44" y="137.31" width="24.72" height="73.71" fill="rgb(246,215,206)"/>
<rect x="1073.11" y="137.31" width="24.72" height="73.71" fill="rgb(186,183,222)"/>
<rect x="1097.78" y="137.31" width="24.72" height="73.71" fill="rgb(131,126,192)"/>
<rect x="1122.45" y="137.31" width="24.72" height="73.71" fill="rgb(192,188,224)"/>
<rect x="1147.12" y="137.31" width="24.72" height="73.71" fill="rgb(236,180,166)"/>
<rect x="1171.79" y="137.31" width="24.72" height="73.71" fill="rgb(200,196,228)"/>
<rect x="1196.46" y="137.31" width="24.72" height="73.71" fill="rgb(240,195,183)"/>
<rect x="1221.14" y="137.31" width="24.72" height="73.71" fill="rgb(243,205,194)"/>
<rect x="1245.81" y="137.31" width="24.72" height="73.71" fill="rgb(245,212,202)"/>
<rect x="1270.48" y="137.31" width="24.72" height="73.71" fill="rgb(164,158,210)"/>
<rect x="1295.15" y="137.31" width="24.72" height="73.71" fill="rgb(214,210,234)"/>
<rect x="1319.82" y="137.31" width="24.72" height="73.71" fill="rgb(240,238,247)"/>
<rect x="1344.49" y="137.31" width="24.72" height="73.71" fill="rgb(196,192,226)"/>
<rect x="1369.16" y="137.31" width="24.72" height="73.71" fill="rgb(238,236,246)"/>
<rect x="1393.84" y="137.31" width="24.72" height="73.71" fill="rgb(146,140,200)"/>
<rect x="1418.51" y="137.31" width="24.72" height="73.71" fill="rgb(190,186,223)"/>
<rect x="1443.18" y="137.31" width="24.72" height="73.71" fill="rgb(226,224,240)"/>
<rect x="1467.85" y="137.31" width="24.72" height="73.71" fill="rgb(236,234,246)"/>
<rect x="1492.52" y="137.31" width="24.72" height="73.71" fill="rgb(234,168,152)"/>
<rect x="1517.19" y="137.31" width="24.72" height="73.71" fill="rgb(139,133,197)"/>
<rect x="1541.86" y="137.31" width="24.72" height="73.71" fill="rgb(137,131,196)"/>
<rect x="1566.54" y="137.31" width="24.72" height="73.71" fill="rgb(160,155,210)"/>
<rect x="1591.21" y="137.31" width="24.72" height="73.71" fill="rgb(252,236,229)"/>
<rect x="1615.88" y="137.31" width="24.72" height="73.71" fill="rgb(228,135,118)"/>
<rect x="949.75" y="210.97" width="24.72" height="73.71" fill="rgb(150,145,203)"/>
<rect x="974.42" y="210.97" width="24.72" height="73.71" fill="rgb(166,161,211)"/>
<rect x="999.09" y="210.97" width="24.72" height="73.71" fill="rgb(248,222,214)"/>
<rect x="1023.76" y="210.97" width="24.72" height="73.71" fill="rgb(252,240,236)"/>
<rect x="1048.44" y="210.97" width="24.72" height="73.71" fill="rgb(248,222,214)"/>
<rect x="1073.11" y="210.97" width="24.72" height="73.71" fill="rgb(254,249,247)"/>
<rect x="1097.78" y="210.97" width="24.72" height="73.71" fill="rgb(196,192,226)"/>
<rect x="1122.45" y="210.97" width="24.72" height="73.71" fill="rgb(198,194,227)"/>
<rect x="1147.12" y="210.97" width="24.72" height="73.71" fill="rgb(233,231,244)"/>
<rect x="1171.79" y="210.97" width="24.72" height="73.71" fill="rgb(176,171,216)"/>
<rect x="1196.46" y="210.97" width="24.72" height="73.71" fill="rgb(246,212,202)"/>
<rect x="1221.14" y="210.97" width="24.72" height="73.71" fill="rgb(194,190,225)"/>
<rect x="1245.81" y="210.97" width="24.72" height="73.71" fill="rgb(198,194,227)"/>
<rect x="1270.48" y="210.97" width="24.72" height="73.71" fill="rgb(150,145,203)"/>
<rect x="1295.15" y="210.97" width="24.72" height="73.71" fill="rgb(245,208,198)"/>
<rect x="1319.82" y="210.97" width="24.72" height="73.71" fill="rgb(240,190,177)"/>
<rect x="1344.49" y="210.97" width="24.72" height="73.71" fill="rgb(236,170,155)"/>
<rect x="1369.16" y="210.97" width="24.72" height="73.71" fill="rgb(230,228,243)"/>
<rect x="1393.84" y="210.97" width="24.72" height="73.71" fill="rgb(230,228,243)"/>
<rect x="1418.51" y="210.97" width="24.72" height="73.71" fill="rgb(237,235,246)"/>
<rect x="1443.18" y="210.97" width="24.72" height="73.71" fill="rgb(216,213,235)"/>
<rect x="1467.85" y="210.97" width="24.72" height="73.71" fill="rgb(241,192,180)"/>
<rect x="1492.52" y="210.97" width="24.72" height="73.71" fill="rgb(206,202,230)"/>
<rect x="1517.19" y="210.97" width="24.72" height="73.71" fill="rgb(254,253,253)"/>
<rect x="1541.86" y="210.97" width="24.72" height="73.71" fill="rgb(230,228,243)"/>
<rect x="1566.54" y="210.97" width="24.72" height="73.71" fill="rgb(150,145,203)"/>
<rect x="1591.21" y="210.97" width="24.72" height="73.71" fill="rgb(240,185,170)"/>
<rect x="1615.88" y="210.97" width="24.72" height="73.71" fill="rgb(228,135,118)"/>
<rect x="949.75" y="284.63" width="24.72" height="73.71" fill="rgb(208,205,232)"/>
<rect x="974.42" y="284.63" width="24.72" height="73.71" fill="rgb(210,207,233)"/>
<rect x="999.09" y="284.63" width="24.72" height="73.71" fill="rgb(234,232,245)"/>
<rect x="1023.76" y="284.63" width="24.72" height="73.71" fill="rgb(246,245,250)"/>
<rect x="1048.44" y="284.63" width="24.72" height="73.71" fill="rgb(238,236,247)"/>
<rect x="1073.11" y="284.63" width="24.72" height="73.71" fill="rgb(241,195,183)"/>
<rect x="1097.78" y="284.63" width="24.72" height="73.71" fill="rgb(243,203,193)"/>
<rect x="1122.45" y="284.63" width="24.72" height="73.71" fill="rgb(241,240,248)"/>
<rect x="1147.12" y="284.63" width="24.72" height="73.71" fill="rgb(240,238,247)"/>
<rect x="1171.79" y="284.63" width="24.72" height="73.71" fill="rgb(253,240,235)"/>
<rect x="1196.46" y="284.63" width="24.72" height="73.71" fill="rgb(251,232,224)"/>
<rect x="1221.14" y="284.63" width="24.72" height="73.71" fill="rgb(245,208,197)"/>
<rect x="1245.81" y="284.63" width="24.72" height="73.71" fill="rgb(202,198,229)"/>
<rect x="1270.48" y="284.63" width="24.72" height="73.71" fill="rgb(247,215,207)"/>
<rect x="1295.15" y="284.63" width="24.72" height="73.71" fill="rgb(246,245,251)"/>
<rect x="1319.82" y="284.63" width="24.72" height="73.71" fill="rgb(248,218,209)"/>
<rect x="1344.49" y="284.63" width="24.72" height="73.71" fill="rgb(241,190,177)"/>
<rect x="1369.16" y="284.63" width="24.72" height="73.71" fill="rgb(160,155,210)"/>
<rect x="1393.84" y="284.63" width="24.72" height="73.71" fill="rgb(229,132,115)"/>
<rect x="1418.51" y="284.63" width="24.72" height="73.71" fill="rgb(240,185,172)"/>
<rect x="1443.18" y="284.63" width="24.72" height="73.71" fill="rgb(251,232,225)"/>
<rect x="1467.85" y="284.63" width="24.72" height="73.71" fill="rgb(246,210,200)"/>
<rect x="1492.52" y="284.63" width="24.72" height="73.71" fill="rgb(243,198,187)"/>
<rect x="1517.19" y="284.63" width="24.72" height="73.71" fill="rgb(248,220,212)"/>
<rect x="1541.86" y="284.63" width="24.72" height="73.71" fill="rgb(236,168,153)"/>
<rect x="1566.54" y="284.63" width="24.72" height="73.71" fill="rgb(255,254,254)"/>
<rect x="1591.21" y="284.63" width="24.72" height="73.71" fill="rgb(192,188,224)"/>
<rect x="1615.88" y="284.63" width="24.72" height="73.71" fill="rgb(188,184,223)"/>
<rect x="949.75" y="358.29" width="24.72" height="73.71" fill="rgb(252,236,230)"/>
<rect x="974.42" y="358.29" width="24.72" height="73.71" fill="rgb(224,221,239)"/>
<rect x="999.09" y="358.29" width="24.72" height="73.71" fill="rgb(242,241,248)"/>
<rect x="1023.76" y="358.29" width="24.72" height="73.71" fill="rgb(246,214,207)"/>
<rect x="1048.44" y="358.29" width="24.72" height="73.71" fill="rgb(240,239,248)"/>
<rect x="1073.11" y="358.29" width="24.72" height="73.71" fill="rgb(120,115,186)"/>
<rect x="1097.78" y="358.29" width="24.72" height="73.71" fill="rgb(150,145,203)"/>
<rect x="1122.45" y="358.29" width="24.72" height="73.71" fill="rgb(130,125,192)"/>
<rect x="1147.12" y="358.29" width="24.72" height="73.71" fill="rgb(227,130,113)"/>
<rect x="1171.79" y="358.29" width="24.72" height="73.71" fill="rgb(234,232,245)"/>
<rect x="1196.46" y="358.29" width="24.72" height="73.71" fill="rgb(232,152,136)"/>
<rect x="1221.14" y="358.29" width="24.72" height="73.71" fill="rgb(225,122,107)"/>
<rect x="1245.81" y="358.29" width="24.72" height="73.71" fill="rgb(247,214,205)"/>
<rect x="1270.48" y="358.29" width="24.72" height="73.71" fill="rgb(250,249,251)"/>
<rect x="1295.15" y="358.29" width="24.72" height="73.71" fill="rgb(232,230,244)"/>
<rect x="1319.82" y="358.29" width="24.72" height="73.71" fill="rgb(237,172,158)"/>
<rect x="1344.49" y="358.29" width="24.72" height="73.71" fill="rgb(200,196,228)"/>
<rect x="1369.16" y="358.29" width="24.72" height="73.71" fill="rgb(204,200,230)"/>
<rect x="1393.84" y="358.29" width="24.72" height="73.71" fill="rgb(146,141,201)"/>
<rect x="1418.51" y="358.29" width="24.72" height="73.71" fill="rgb(160,155,210)"/>
<rect x="1443.18" y="358.29" width="24.72" height="73.71" fill="rgb(210,207,232)"/>
<rect x="1467.85" y="358.29" width="24.72" height="73.71" fill="rgb(246,212,202)"/>
<rect x="1492.52" y="358.29" width="24.72" height="73.71" fill="rgb(230,143,127)"/>
<rect x="1517.19" y="358.29" width="24.72" height="73.71" fill="rgb(206,202,231)"/>
<rect x="1541.86" y="358.29" width="24.72" height="73.71" fill="rgb(198,194,227)"/>
<rect x="1566.54" y="358.29" width="24.72" height="73.71" fill="rgb(192,188,224)"/>
<rect x="1591.21" y="358.29" width="24.72" height="73.71" fill="rgb(162,157,211)"/>
<rect x="1615.88" y="358.29" width="24.72" height="73.71" fill="rgb(243,200,190)"/>
<line x1="949.75" y1="62.00" x2="949.75" y2="433.60" stroke="#bcbcbc" stroke-width="3.30"/>
<line x1="974.42" y1="62.00" x2="974.42" y2="433.60" stroke="#bcbcbc" stroke-width="3.30"/>
<line x1="999.09" y1="62.00" x2="999.09" y2="433.60" stroke="#bcbcbc" stroke-width="3.30"/>
<line x1="1023.76" y1="62.00" x2="1023.76" y2="433.60" stroke="#bcbcbc" stroke-width="3.30"/>
<line x1="1048.44" y1="62.00" x2="1048.44" y2="433.60" stroke="#bcbcbc" stroke-width="3.30"/>
<line x1="1073.11" y1="62.00" x2="1073.11" y2="433.60" stroke="#bcbcbc" stroke-width="3.30"/>
<line x1="1097.78" y1="62.00" x2="1097.78" y2="433.60" stroke="#bcbcbc" stroke-width="3.30"/>
<line x1="1122.45" y1="62.00" x2="1122.45" y2="433.60" stroke="#bcbcbc" stroke-width="3.30"/>
<line x1="1147.12" y1="62.00" x2="1147.12" y2="433.60" stroke="#bcbcbc" stroke-width="3.30"/>
<line x1="1171.79" y1="62.00" x2="1171.79" y2="433.60" stroke="#bcbcbc" stroke-width="3.30"/>
<line x1="1196.46" y1="62.00" x2="1196.46" y2="433.60" stroke="#bcbcbc" stroke-width="3.30"/>
<line x1="1221.14" y1="62.00" x2="1221.14" y2="433.60" stroke="#bcbcbc" stroke-width="3.30"/>
<line x1="1245.81" y1="62.00" x2="1245.81" y2="433.60" stroke="#bcbcbc" stroke-width="3.30"/>
<line x1="1270.48" y1="62.00" x2="1270.48" y2="433.60" stroke="#bcbcbc" stroke-width="3.30"/>
<line x1="1295.15" y1="62.00" x2="1295.15" y2="433.60" stroke="#bcbcbc" stroke-width="3.30"/>
<line x1="1319.82" y1="62.00" x2="1319.82" y2="433.60" stroke="#bcbcbc" stroke-width="3.30"/>
<line x1="1344.49" y1="62.00" x2="1344.49" y2="433.60" stroke="#bcbcbc" stroke-width="3.30"/>
<line x1="1369.16" y1="62.00" x2="1369.16" y2="433.60" stroke="#bcbcbc" stroke-width="3.30"/>
<line x1="1393.84" y1="62.00" x2="1393.84" y2="433.60" stroke="#bcbcbc" stroke-width="3.30"/>
<line x1="1418.51" y1="62.00" x2="1418.51" y2="433.60" stroke="#bcbcbc" stroke-width="3.30"/>
<line x1="1443.18" y1="62.00" x2="1443.18" y2="433.60" stroke="#bcbcbc" stroke-width="3.30"/>
<line x1="1467.85" y1="62.00" x2="1467.85" y2="433.60" stroke="#bcbcbc" stroke-width="3.30"/>
<line x1="1492.52" y1="62.00" x2="1492.52" y2="433.60" stroke="#bcbcbc" stroke-width="3.30"/>
<line x1="1517.19" y1="62.00" x2="1517.19" y2="433.60" stroke="#bcbcbc" stroke-width="3.30"/>
<line x1="1541.86" y1="62.00" x2="1541.86" y2="433.60" stroke="#bcbcbc" stroke-width="3.30"/>
<line x1="1566.54" y1="62.00" x2="1566.54" y2="433.60" stroke="#bcbcbc" stroke-width="3.30"/>
<line x1="1591.21" y1="62.00" x2="1591.21" y2="433.60" stroke="#bcbcbc" stroke-width="3.30"/>
<line x1="1615.88" y1="62.00" x2="1615.88" y2="433.60" stroke="#bcbcbc" stroke-width="3.30"/>
<line x1="1640.55" y1="62.00" x2="1640.55" y2="433.60" stroke="#bcbcbc" stroke-width="3.30"/>
<line x1="948.10" y1="63.65" x2="1642.20" y2="63.65" stroke="#bcbcbc" stroke-width="3.30"/>
<line x1="948.10" y1="137.31" x2="1642.20" y2="137.31" stroke="#bcbcbc" stroke-width="3.30"/>
<line x1="948.10" y1="210.97" x2="1642.20" y2="210.97" stroke="#bcbcbc" stroke-width="3.30"/>
<line x1="948.10" y1="284.63" x2="1642.20" y2="284.63" stroke="#bcbcbc" stroke-width="3.30"/>
<line x1="948.10" y1="358.29" x2="1642.20" y2="358.29" stroke="#bcbcbc" stroke-width="3.30"/>
<line x1="948.10" y1="431.95" x2="1642.20" y2="431.95" stroke="#bcbcbc" stroke-width="3.30"/>
<line x1="962.09" y1="57.2" x2="962.09" y2="62" stroke="#e2e2e2" stroke-width="1"/>
<line x1="962.09" y1="433.6" x2="962.09" y2="438.8" stroke="#e2e2e2" stroke-width="1"/>
<line x1="986.76" y1="57.2" x2="986.76" y2="62" stroke="#e2e2e2" stroke-width="1"/>
<line x1="986.76" y1="433.6" x2="986.76" y2="438.8" stroke="#e2e2e2" stroke-width="1"/>
<line x1="1011.43" y1="57.2" x2="1011.43" y2="62" stroke="#e2e2e2" stroke-width="1"/>
<line x1="1011.43" y1="433.6" x2="1011.43" y2="438.8" stroke="#e2e2e2" stroke-width="1"/>
<line x1="1036.10" y1="57.2" x2="1036.10" y2="62" stroke="#e2e2e2" stroke-width="1"/>
<line x1="1036.10" y1="433.6" x2="1036.10" y2="438.8" stroke="#e2e2e2" stroke-width="1"/>
<line x1="1060.77" y1="57.2" x2="1060.77" y2="62" stroke="#e2e2e2" stroke-width="1"/>
<line x1="1060.77" y1="433.6" x2="1060.77" y2="438.8" stroke="#e2e2e2" stroke-width="1"/>
<line x1="1085.44" y1="57.2" x2="1085.44" y2="62" stroke="#e2e2e2" stroke-width="1"/>
<line x1="1085.44" y1="433.6" x2="1085.44" y2="438.8" stroke="#e2e2e2" stroke-width="1"/>
<line x1="1110.11" y1="57.2" x2="1110.11" y2="62" stroke="#e2e2e2" stroke-width="1"/>
<line x1="1110.11" y1="433.6" x2="1110.11" y2="438.8" stroke="#e2e2e2" stroke-width="1"/>
<line x1="1134.79" y1="57.2" x2="1134.79" y2="62" stroke="#e2e2e2" stroke-width="1"/>
<line x1="1134.79" y1="433.6" x2="1134.79" y2="438.8" stroke="#e2e2e2" stroke-width="1"/>
<line x1="1159.46" y1="57.2" x2="1159.46" y2="62" stroke="#e2e2e2" stroke-width="1"/>
<line x1="1159.46" y1="433.6" x2="1159.46" y2="438.8" stroke="#e2e2e2" stroke-width="1"/>
<line x1="1184.13" y1="57.2" x2="1184.13" y2="62" stroke="#e2e2e2" stroke-width="1"/>
<line x1="1184.13" y1="433.6" x2="1184.13" y2="438.8" stroke="#e2e2e2" stroke-width="1"/>
<line x1="1208.80" y1="57.2" x2="1208.80" y2="62" stroke="#e2e2e2" stroke-width="1"/>
<line x1="1208.80" y1="433.6" x2="1208.80" y2="438.8" stroke="#e2e2e2" stroke-width="1"/>
<line x1="1233.47" y1="57.2" x2="1233.47" y2="62" stroke="#e2e2e2" stroke-width="1"/>
<line x1="1233.47" y1="433.6" x2="1233.47" y2="438.8" stroke="#e2e2e2" stroke-width="1"/>
<line x1="1258.14" y1="57.2" x2="1258.14" y2="62" stroke="#e2e2e2" stroke-width="1"/>
<line x1="1258.14" y1="433.6" x2="1258.14" y2="438.8" stroke="#e2e2e2" stroke-width="1"/>
<line x1="1282.81" y1="57.2" x2="1282.81" y2="62" stroke="#e2e2e2" stroke-width="1"/>
<line x1="1282.81" y1="433.6" x2="1282.81" y2="438.8" stroke="#e2e2e2" stroke-width="1"/>
<line x1="1307.49" y1="57.2" x2="1307.49" y2="62" stroke="#e2e2e2" stroke-width="1"/>
<line x1="1307.49" y1="433.6" x2="1307.49" y2="438.8" stroke="#e2e2e2" stroke-width="1"/>
<line x1="1332.16" y1="57.2" x2="1332.16" y2="62" stroke="#e2e2e2" stroke-width="1"/>
<line x1="1332.16" y1="433.6" x2="1332.16" y2="438.8" stroke="#e2e2e2" stroke-width="1"/>
<line x1="1356.83" y1="57.2" x2="1356.83" y2="62" stroke="#e2e2e2" stroke-width="1"/>
<line x1="1356.83" y1="433.6" x2="1356.83" y2="438.8" stroke="#e2e2e2" stroke-width="1"/>
<line x1="1381.50" y1="57.2" x2="1381.50" y2="62" stroke="#e2e2e2" stroke-width="1"/>
<line x1="1381.50" y1="433.6" x2="1381.50" y2="438.8" stroke="#e2e2e2" stroke-width="1"/>
<line x1="1406.17" y1="57.2" x2="1406.17" y2="62" stroke="#e2e2e2" stroke-width="1"/>
<line x1="1406.17" y1="433.6" x2="1406.17" y2="438.8" stroke="#e2e2e2" stroke-width="1"/>
<line x1="1430.84" y1="57.2" x2="1430.84" y2="62" stroke="#e2e2e2" stroke-width="1"/>
<line x1="1430.84" y1="433.6" x2="1430.84" y2="438.8" stroke="#e2e2e2" stroke-width="1"/>
<line x1="1455.51" y1="57.2" x2="1455.51" y2="62" stroke="#e2e2e2" stroke-width="1"/>
<line x1="1455.51" y1="433.6" x2="1455.51" y2="438.8" stroke="#e2e2e2" stroke-width="1"/>
<line x1="1480.19" y1="57.2" x2="1480.19" y2="62" stroke="#e2e2e2" stroke-width="1"/>
<line x1="1480.19" y1="433.6" x2="1480.19" y2="438.8" stroke="#e2e2e2" stroke-width="1"/>
<line x1="1504.86" y1="57.2" x2="1504.86" y2="62" stroke="#e2e2e2" stroke-width="1"/>
<line x1="1504.86" y1="433.6" x2="1504.86" y2="438.8" stroke="#e2e2e2" stroke-width="1"/>
<line x1="1529.53" y1="57.2" x2="1529.53" y2="62" stroke="#e2e2e2" stroke-width="1"/>
<line x1="1529.53" y1="433.6" x2="1529.53" y2="438.8" stroke="#e2e2e2" stroke-width="1"/>
<line x1="1554.20" y1="57.2" x2="1554.20" y2="62" stroke="#e2e2e2" stroke-width="1"/>
<line x1="1554.20" y1="433.6" x2="1554.20" y2="438.8" stroke="#e2e2e2" stroke-width="1"/>
<line x1="1578.87" y1="57.2" x2="1578.87" y2="62" stroke="#e2e2e2" stroke-width="1"/>
<line x1="1578.87" y1="433.6" x2="1578.87" y2="438.8" stroke="#e2e2e2" stroke-width="1"/>
<line x1="1603.54" y1="57.2" x2="1603.54" y2="62" stroke="#e2e2e2" stroke-width="1"/>
<line x1="1603.54" y1="433.6" x2="1603.54" y2="438.8" stroke="#e2e2e2" stroke-width="1"/>
<line x1="1628.21" y1="57.2" x2="1628.21" y2="62" stroke="#e2e2e2" stroke-width="1"/>
<line x1="1628.21" y1="433.6" x2="1628.21" y2="438.8" stroke="#e2e2e2" stroke-width="1"/>
<text class="star" x="1134.79" y="99.08" font-size="7.6" text-anchor="middle" fill="#111">★</text>
<text class="star" x="1301.69 1307.49 1313.29" y="99.08" font-size="7.6" text-anchor="middle" fill="#111">★★★</text>
<text class="star" x="1356.83" y="99.08" font-size="7.6" text-anchor="middle" fill="#111">★</text>
<text class="star" x="1107.21 1113.01" y="172.74" font-size="7.6" text-anchor="middle" fill="#111">★★</text>
<text class="star" x="1406.17" y="172.74" font-size="7.6" text-anchor="middle" fill="#111">★</text>
<text class="star" x="1529.53" y="172.74" font-size="7.6" text-anchor="middle" fill="#111">★</text>
<text class="star" x="1554.20" y="172.74" font-size="7.6" text-anchor="middle" fill="#111">★</text>
<text class="star" x="1628.21" y="172.74" font-size="7.6" text-anchor="middle" fill="#111">★</text>
<text class="star" x="962.09" y="246.40" font-size="7.6" text-anchor="middle" fill="#111">★</text>
<text class="star" x="1282.81" y="246.40" font-size="7.6" text-anchor="middle" fill="#111">★</text>
<text class="star" x="1578.87" y="246.40" font-size="7.6" text-anchor="middle" fill="#111">★</text>
<text class="star" x="1628.21" y="246.40" font-size="7.6" text-anchor="middle" fill="#111">★</text>
<text class="star" x="1406.17" y="320.06" font-size="7.6" text-anchor="middle" fill="#111">★</text>
<text class="star" x="1082.54 1088.34" y="393.72" font-size="7.6" text-anchor="middle" fill="#111">★★</text>
<text class="star" x="1110.11" y="393.72" font-size="7.6" text-anchor="middle" fill="#111">★</text>
<text class="star" x="1131.89 1137.69" y="393.72" font-size="7.6" text-anchor="middle" fill="#111">★★</text>
<text class="star" x="1159.46" y="393.72" font-size="7.6" text-anchor="middle" fill="#111">★</text>
<text class="star" x="1233.47" y="393.72" font-size="7.6" text-anchor="middle" fill="#111">★</text>
<text class="star" x="1406.17" y="393.72" font-size="7.6" text-anchor="middle" fill="#111">★</text>
<text class="star" x="1430.84" y="393.72" font-size="7.6" text-anchor="middle" fill="#111">★</text>
<text x="938.6" y="105.58" font-size="13.5" font-weight="bold" text-anchor="end" fill="#333">RAB5C</text>
<text x="938.6" y="179.24" font-size="13.5" font-weight="bold" text-anchor="end" fill="#333">FLT3</text>
<text x="938.6" y="252.90" font-size="13.5" font-weight="bold" text-anchor="end" fill="#333">FCGR2A</text>
<text x="938.6" y="326.56" font-size="13.5" font-weight="bold" text-anchor="end" fill="#333">ECE1</text>
<text x="938.6" y="400.22" font-size="13.5" font-weight="bold" text-anchor="end" fill="#333">APPL1</text>
<text transform="translate(969.69,454.20) rotate(-45)" font-size="13.6" font-weight="bold" text-anchor="end" fill="#333" xml:space="preserve">Activated B cell</text>
<text transform="translate(994.36,454.20) rotate(-45)" font-size="13.6" font-weight="bold" text-anchor="end" fill="#333" xml:space="preserve">Activated CD4 T cell</text>
<text transform="translate(1019.03,454.20) rotate(-45)" font-size="13.6" font-weight="bold" text-anchor="end" fill="#333" xml:space="preserve">Activated CD8 T cell</text>
<text transform="translate(1043.70,454.20) rotate(-45)" font-size="13.6" font-weight="bold" text-anchor="end" fill="#333" xml:space="preserve">Activated dendritic cell</text>
<text transform="translate(1068.37,454.20) rotate(-45)" font-size="13.6" font-weight="bold" text-anchor="end" fill="#333" xml:space="preserve">CD56bright natural killer cell</text>
<text transform="translate(1093.04,454.20) rotate(-45)" font-size="13.6" font-weight="bold" text-anchor="end" fill="#333" xml:space="preserve">CD56dim natural killer cell</text>
<text transform="translate(1117.71,454.20) rotate(-45)" font-size="13.6" font-weight="bold" text-anchor="end" fill="#333" xml:space="preserve">Central memory CD4 T cell</text>
<text transform="translate(1142.39,454.20) rotate(-45)" font-size="13.6" font-weight="bold" text-anchor="end" fill="#333" xml:space="preserve">Central memory CD8 T cell</text>
<text transform="translate(1167.06,454.20) rotate(-45)" font-size="13.6" font-weight="bold" text-anchor="end" fill="#333" xml:space="preserve">Effector memeory CD4 T cell</text>
<text transform="translate(1191.73,454.20) rotate(-45)" font-size="13.6" font-weight="bold" text-anchor="end" fill="#333" xml:space="preserve">Effector memeory CD8 T cell</text>
<text transform="translate(1216.40,454.20) rotate(-45)" font-size="13.6" font-weight="bold" text-anchor="end" fill="#333" xml:space="preserve">Eosinophil</text>
<text transform="translate(1241.07,454.20) rotate(-45)" font-size="13.6" font-weight="bold" text-anchor="end" fill="#333" xml:space="preserve">Gamma delta T cell</text>
<text transform="translate(1265.74,454.20) rotate(-45)" font-size="13.6" font-weight="bold" text-anchor="end" fill="#333" xml:space="preserve">Immature  B cell</text>
<text transform="translate(1290.41,454.20) rotate(-45)" font-size="13.6" font-weight="bold" text-anchor="end" fill="#333" xml:space="preserve">Immature dendritic cell</text>
<text transform="translate(1315.09,454.20) rotate(-45)" font-size="13.6" font-weight="bold" text-anchor="end" fill="#333" xml:space="preserve">Macrophage</text>
<text transform="translate(1339.76,454.20) rotate(-45)" font-size="13.6" font-weight="bold" text-anchor="end" fill="#333" xml:space="preserve">Mast cell</text>
<text transform="translate(1364.43,454.20) rotate(-45)" font-size="13.6" font-weight="bold" text-anchor="end" fill="#333" xml:space="preserve">MDSC</text>
<text transform="translate(1389.10,454.20) rotate(-45)" font-size="13.6" font-weight="bold" text-anchor="end" fill="#333" xml:space="preserve">Memory B cell</text>
<text transform="translate(1413.77,454.20) rotate(-45)" font-size="13.6" font-weight="bold" text-anchor="end" fill="#333" xml:space="preserve">Monocyte</text>
<text transform="translate(1438.44,454.20) rotate(-45)" font-size="13.6" font-weight="bold" text-anchor="end" fill="#333" xml:space="preserve">Natural killer cell</text>
<text transform="translate(1463.11,454.20) rotate(-45)" font-size="13.6" font-weight="bold" text-anchor="end" fill="#333" xml:space="preserve">Natural killer T cell</text>
<text transform="translate(1487.79,454.20) rotate(-45)" font-size="13.6" font-weight="bold" text-anchor="end" fill="#333" xml:space="preserve">Neutrophil</text>
<text transform="translate(1512.46,454.20) rotate(-45)" font-size="13.6" font-weight="bold" text-anchor="end" fill="#333" xml:space="preserve">Plasmacytoid dendritic cell</text>
<text transform="translate(1537.13,454.20) rotate(-45)" font-size="13.6" font-weight="bold" text-anchor="end" fill="#333" xml:space="preserve">Regulatory T cell</text>
<text transform="translate(1561.80,454.20) rotate(-45)" font-size="13.6" font-weight="bold" text-anchor="end" fill="#333" xml:space="preserve">T follicular helper cell</text>
<text transform="translate(1586.47,454.20) rotate(-45)" font-size="13.6" font-weight="bold" text-anchor="end" fill="#333" xml:space="preserve">Type 1 T helper cell</text>
<text transform="translate(1611.14,454.20) rotate(-45)" font-size="13.6" font-weight="bold" text-anchor="end" fill="#333" xml:space="preserve">Type 17 T helper cell</text>
<text transform="translate(1635.81,454.20) rotate(-45)" font-size="13.6" font-weight="bold" text-anchor="end" fill="#333" xml:space="preserve">Type 2 T helper cell</text>
<text x="1675.3 1681.8 1688.3" y="131.9" font-size="13.6" font-weight="bold" text-anchor="middle" fill="#000">***</text>
<text class="rg" x="1702.7" y="135.5" font-size="18.2" fill="#000">p&lt;0.001</text>
<text x="1675.3 1681.9" y="151.4" font-size="13.6" font-weight="bold" text-anchor="middle" fill="#000">**</text>
<text class="rg" x="1695.2" y="155.0" font-size="18.2" fill="#000">p&lt;0.01</text>
<text x="1679.6" y="170.9" font-size="13.6" font-weight="bold" text-anchor="middle" fill="#000">*</text>
<text class="rg" x="1693.6" y="174.5" font-size="18.2" fill="#000">p&lt;0.05</text>
<text class="rg" x="1671.8" y="217" font-size="18.4" fill="#000">Correlation</text>
<defs>
<linearGradient id="cb" x1="0" y1="0" x2="0" y2="1">
<stop offset="0.0033" stop-color="rgb(205,45,50)"/>
<stop offset="0.1698" stop-color="rgb(226,128,112)"/>
<stop offset="0.2821" stop-color="rgb(234,168,152)"/>
<stop offset="0.4149" stop-color="rgb(246,212,202)"/>
<stop offset="0.5476" stop-color="rgb(255,255,255)"/>
<stop offset="0.6498" stop-color="rgb(226,223,240)"/>
<stop offset="0.7519" stop-color="rgb(196,192,226)"/>
<stop offset="0.8540" stop-color="rgb(164,158,210)"/>
<stop offset="0.9561" stop-color="rgb(131,126,192)"/>
<stop offset="1.0000" stop-color="rgb(120,115,186)"/>
</linearGradient>
<linearGradient id="fade" x1="0" y1="0" x2="1" y2="0">
<stop offset="0" stop-color="#fff" stop-opacity="0"/>
<stop offset="0.3" stop-color="#fff" stop-opacity="0.15"/>
<stop offset="0.6" stop-color="#fff" stop-opacity="0.5"/>
<stop offset="0.82" stop-color="#fff" stop-opacity="0.9"/>
<stop offset="0.94" stop-color="#fff" stop-opacity="1"/>
<stop offset="1" stop-color="#fff" stop-opacity="1"/>
</linearGradient>
</defs>
<rect x="1671" y="228.5" width="28.8" height="145.9" fill="url(#cb)"/>
<rect x="1671" y="228.0" width="30.2" height="146.9" fill="url(#fade)"/>
<line x1="1671" y1="233.90" x2="1677" y2="233.90" stroke="#fff" stroke-width="0.9" stroke-opacity="0.85"/>
<line x1="1693.8" y1="233.90" x2="1699.8" y2="233.90" stroke="#fff" stroke-width="0.9" stroke-opacity="0.85"/>
<text class="rg" x="1709.6" y="238.40" font-size="15.2" fill="#000">0.50</text>
<line x1="1671" y1="271.15" x2="1677" y2="271.15" stroke="#fff" stroke-width="0.9" stroke-opacity="0.85"/>
<line x1="1693.8" y1="271.15" x2="1699.8" y2="271.15" stroke="#fff" stroke-width="0.9" stroke-opacity="0.85"/>
<text class="rg" x="1709.6" y="275.65" font-size="15.2" fill="#000">0.25</text>
<line x1="1671" y1="308.40" x2="1677" y2="308.40" stroke="#fff" stroke-width="0.9" stroke-opacity="0.85"/>
<line x1="1693.8" y1="308.40" x2="1699.8" y2="308.40" stroke="#fff" stroke-width="0.9" stroke-opacity="0.85"/>
<text class="rg" x="1709.6" y="312.90" font-size="15.2" fill="#000">0.00</text>
<line x1="1671" y1="345.65" x2="1677" y2="345.65" stroke="#fff" stroke-width="0.9" stroke-opacity="0.85"/>
<line x1="1693.8" y1="345.65" x2="1699.8" y2="345.65" stroke="#fff" stroke-width="0.9" stroke-opacity="0.85"/>
<text class="rg" x="1709.6" y="350.15" font-size="15.2" fill="#000">−0.25</text>
</g>
</svg>
</body></html>
